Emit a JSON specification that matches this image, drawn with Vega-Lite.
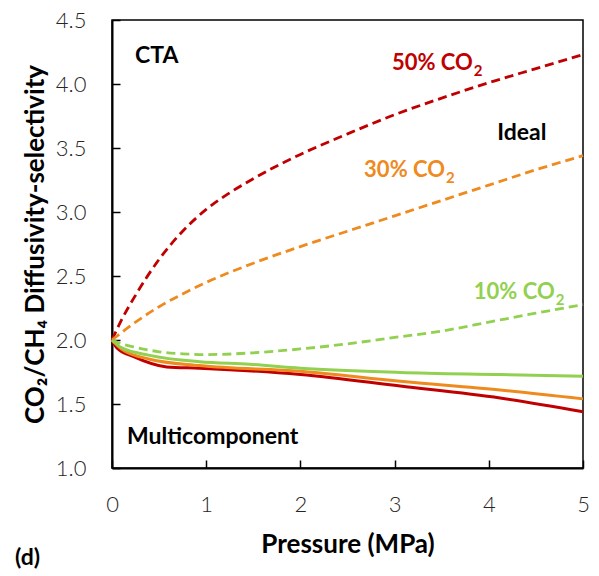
{
  "$schema": "https://vega.github.io/schema/vega-lite/v6.json",
  "width": 471,
  "height": 448,
  "autosize": {"type": "none"},
  "padding": {"left": 112, "top": 20, "right": 16, "bottom": 108},
  "background": "white",
  "config": {
    "view": {"stroke": "#000000", "strokeWidth": 1.5},
    "font": "Lato",
    "axis": {
      "grid": false,
      "domainColor": "#000000",
      "domainWidth": 2,
      "tickColor": "#000000",
      "tickWidth": 1.5,
      "tickSize": -8,
      "labelFlush": false,
      "labelFont": "Lato",
      "labelFontSize": 22,
      "labelFontWeight": 300,
      "labelColor": "#262626",
      "titleFont": "Lato",
      "titleFontSize": 26,
      "titleFontWeight": "bold",
      "titleColor": "#000000"
    }
  },
  "datasets": {
    "curves": [
      {"p": 0, "v": 2.0, "s": "50", "m": "Ideal"},
      {"p": 0.1, "v": 2.155, "s": "50", "m": "Ideal"},
      {"p": 0.25, "v": 2.35, "s": "50", "m": "Ideal"},
      {"p": 0.5, "v": 2.63, "s": "50", "m": "Ideal"},
      {"p": 0.75, "v": 2.85, "s": "50", "m": "Ideal"},
      {"p": 1.0, "v": 3.02, "s": "50", "m": "Ideal"},
      {"p": 1.25, "v": 3.15, "s": "50", "m": "Ideal"},
      {"p": 1.5, "v": 3.26, "s": "50", "m": "Ideal"},
      {"p": 1.75, "v": 3.36, "s": "50", "m": "Ideal"},
      {"p": 2.0, "v": 3.45, "s": "50", "m": "Ideal"},
      {"p": 2.5, "v": 3.61, "s": "50", "m": "Ideal"},
      {"p": 3.0, "v": 3.76, "s": "50", "m": "Ideal"},
      {"p": 3.5, "v": 3.89, "s": "50", "m": "Ideal"},
      {"p": 4.0, "v": 4.01, "s": "50", "m": "Ideal"},
      {"p": 4.5, "v": 4.12, "s": "50", "m": "Ideal"},
      {"p": 5, "v": 4.23, "s": "50", "m": "Ideal"},
      {"p": 0, "v": 2.0, "s": "30", "m": "Ideal"},
      {"p": 0.25, "v": 2.14, "s": "30", "m": "Ideal"},
      {"p": 0.5, "v": 2.26, "s": "30", "m": "Ideal"},
      {"p": 0.75, "v": 2.36, "s": "30", "m": "Ideal"},
      {"p": 1.0, "v": 2.45, "s": "30", "m": "Ideal"},
      {"p": 1.5, "v": 2.6, "s": "30", "m": "Ideal"},
      {"p": 2.0, "v": 2.73, "s": "30", "m": "Ideal"},
      {"p": 2.5, "v": 2.85, "s": "30", "m": "Ideal"},
      {"p": 3.0, "v": 2.97, "s": "30", "m": "Ideal"},
      {"p": 3.5, "v": 3.09, "s": "30", "m": "Ideal"},
      {"p": 4.0, "v": 3.21, "s": "30", "m": "Ideal"},
      {"p": 4.5, "v": 3.33, "s": "30", "m": "Ideal"},
      {"p": 5, "v": 3.44, "s": "30", "m": "Ideal"},
      {"p": 0, "v": 2.0, "s": "10", "m": "Ideal"},
      {"p": 0.1, "v": 1.97, "s": "10", "m": "Ideal"},
      {"p": 0.25, "v": 1.943, "s": "10", "m": "Ideal"},
      {"p": 0.5, "v": 1.908, "s": "10", "m": "Ideal"},
      {"p": 0.75, "v": 1.892, "s": "10", "m": "Ideal"},
      {"p": 1.0, "v": 1.886, "s": "10", "m": "Ideal"},
      {"p": 1.5, "v": 1.9, "s": "10", "m": "Ideal"},
      {"p": 2.0, "v": 1.93, "s": "10", "m": "Ideal"},
      {"p": 2.5, "v": 1.97, "s": "10", "m": "Ideal"},
      {"p": 3.0, "v": 2.02, "s": "10", "m": "Ideal"},
      {"p": 3.5, "v": 2.07, "s": "10", "m": "Ideal"},
      {"p": 4.0, "v": 2.14, "s": "10", "m": "Ideal"},
      {"p": 4.5, "v": 2.21, "s": "10", "m": "Ideal"},
      {"p": 5, "v": 2.276, "s": "10", "m": "Ideal"},
      {"p": 0, "v": 2.0, "s": "50", "m": "Multi"},
      {"p": 0.05, "v": 1.94, "s": "50", "m": "Multi"},
      {"p": 0.23, "v": 1.87, "s": "50", "m": "Multi"},
      {"p": 0.58, "v": 1.79, "s": "50", "m": "Multi"},
      {"p": 0.93, "v": 1.78, "s": "50", "m": "Multi"},
      {"p": 2.0, "v": 1.73, "s": "50", "m": "Multi"},
      {"p": 3.06, "v": 1.64, "s": "50", "m": "Multi"},
      {"p": 4.12, "v": 1.547, "s": "50", "m": "Multi"},
      {"p": 5, "v": 1.44, "s": "50", "m": "Multi"},
      {"p": 0, "v": 2.0, "s": "30", "m": "Multi"},
      {"p": 0.1, "v": 1.93, "s": "30", "m": "Multi"},
      {"p": 0.4, "v": 1.85, "s": "30", "m": "Multi"},
      {"p": 0.93, "v": 1.8, "s": "30", "m": "Multi"},
      {"p": 2.0, "v": 1.755, "s": "30", "m": "Multi"},
      {"p": 3.06, "v": 1.677, "s": "30", "m": "Multi"},
      {"p": 4.12, "v": 1.61, "s": "30", "m": "Multi"},
      {"p": 5, "v": 1.54, "s": "30", "m": "Multi"},
      {"p": 0, "v": 2.0, "s": "10", "m": "Multi"},
      {"p": 0.1, "v": 1.94, "s": "10", "m": "Multi"},
      {"p": 0.4, "v": 1.88, "s": "10", "m": "Multi"},
      {"p": 0.93, "v": 1.83, "s": "10", "m": "Multi"},
      {"p": 1.46, "v": 1.81, "s": "10", "m": "Multi"},
      {"p": 2.0, "v": 1.78, "s": "10", "m": "Multi"},
      {"p": 3.06, "v": 1.747, "s": "10", "m": "Multi"},
      {"p": 4.12, "v": 1.73, "s": "10", "m": "Multi"},
      {"p": 5, "v": 1.716, "s": "10", "m": "Multi"}
    ],
    "notes": [
      {"p": 0.244, "v": 4.164, "t": "CTA"},
      {"p": 4.09, "v": 3.565, "t": "Ideal"},
      {"p": 0.16, "v": 1.19, "t": "Multicomponent"},
      {"p": -1.03, "v": 0.245, "t": "(d)"}
    ],
    "series": [
      {"p": 3.83, "v": 4.108, "t": "50% CO", "s": "50"},
      {"p": 3.535, "v": 3.27, "t": "30% CO", "s": "30"},
      {"p": 4.7, "v": 2.32, "t": "10% CO", "s": "10"}
    ]
  },
  "layer": [
    {
      "data": {"name": "curves"},
      "transform": [{"filter": "datum.m === 'Ideal'"}],
      "mark": {"type": "line", "interpolate": "monotone", "strokeWidth": 2.8, "strokeDash": [9, 5]},
      "encoding": {
        "x": {"field": "p", "type": "quantitative", "scale": {"domain": [0, 5], "nice": false},
          "axis": {"title": "Pressure (MPa)", "values": [0, 1, 2, 3, 4, 5], "format": "d", "labelPadding": 34, "titlePadding": 16}},
        "y": {"field": "v", "type": "quantitative", "scale": {"domain": [1, 4.5], "nice": false, "zero": false},
          "axis": {"title": "CO₂/CH₄ Diffusivity-selectivity", "values": [1, 1.5, 2, 2.5, 3, 3.5, 4, 4.5], "format": ".1f", "labelPadding": 34, "titlePadding": 7}},
        "color": {"field": "s", "type": "nominal", "scale": {"domain": ["50", "30", "10"], "range": ["#C00000", "#EE8A1E", "#92D050"]}, "legend": null},
        "detail": {"field": "s"}
      }
    },
    {
      "data": {"name": "curves"},
      "transform": [{"filter": "datum.m === 'Multi'"}],
      "mark": {"type": "line", "interpolate": "monotone", "strokeWidth": 3},
      "encoding": {
        "x": {"field": "p", "type": "quantitative"},
        "y": {"field": "v", "type": "quantitative"},
        "color": {"field": "s", "type": "nominal", "legend": null},
        "order": {"field": "p", "type": "quantitative"}
      }
    },
    {
      "data": {"name": "notes"},
      "mark": {"type": "text", "align": "left", "baseline": "alphabetic", "font": "Lato", "fontSize": 23, "fontWeight": "bold", "color": "#000000"},
      "encoding": {
        "x": {"field": "p", "type": "quantitative"},
        "y": {"field": "v", "type": "quantitative"},
        "text": {"field": "t"}
      }
    },
    {
      "data": {"name": "series"},
      "mark": {"type": "text", "align": "right", "baseline": "alphabetic", "font": "Lato", "fontSize": 22, "fontWeight": "bold"},
      "encoding": {
        "x": {"field": "p", "type": "quantitative"},
        "y": {"field": "v", "type": "quantitative"},
        "text": {"field": "t"},
        "color": {"field": "s", "type": "nominal", "legend": null}
      }
    },
    {
      "data": {"name": "series"},
      "mark": {"type": "text", "align": "left", "baseline": "alphabetic", "font": "Lato", "fontSize": 15, "fontWeight": "bold", "dx": 1, "dy": 6},
      "encoding": {
        "x": {"field": "p", "type": "quantitative"},
        "y": {"field": "v", "type": "quantitative"},
        "text": {"value": "2"},
        "color": {"field": "s", "type": "nominal", "legend": null}
      }
    }
  ]
}
